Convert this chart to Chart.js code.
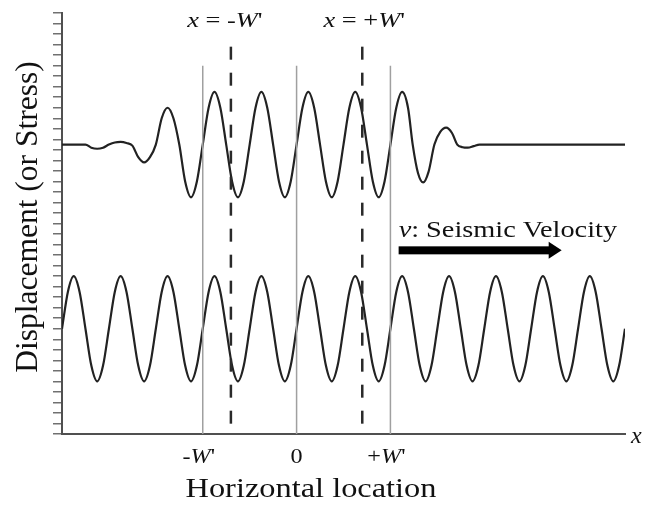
<!DOCTYPE html>
<html>
<head>
<meta charset="UTF-8">
<title>Displacement window</title>
<script src="https://cdn.jsdelivr.net/npm/chart.js"></script>
<style>
  html, body { margin: 0; padding: 0; background: #fff; }
  #wrap { width: 645px; height: 506px; }
  .fontprobe { font-family: "Liberation Serif"; position: absolute; left: -999px; }
</style>
</head>
<body>
<span class="fontprobe">Aa <i>Aa</i></span>
<div id="wrap"><canvas id="waveChart"></canvas></div>
<script>
// horizontal unit = W'/16 (one eighth of a wavelength), 0 at the centre line
const xMin = -40, xMax = 56;
const xTickValues = [-16, 0, 16];
const xTickLabels = [["-", 0, "W", 1, "'", 0], ["0", 0], ["+", 0, "W", 1, "'", 0]];
const yMin = 0, yMax = 40;

// upper trace: wave limited to the window
const topX = [-40, -36, -35, -34, -33, -32, -31, -30, -29, -28, -27, -26, -25, -24, -23, -22, -21, -20,
  -19, -18, -17, -16, -15, -14, -13, -12, -11, -10, -9, -8, -7, -6, -5, -4, -3, -2, -1, 0,
  1, 2, 3, 4, 5, 6, 7, 8, 9, 10, 11, 12, 13, 14, 15, 16, 17, 18, 19, 19.8,
  20.7, 21.6, 22.5, 23.5, 24.5, 25.5, 26.5, 27.4, 28.3, 29.2, 30.2, 31.2, 56];
const topY = [27.5, 27.5, 27.2, 27.1, 27.2, 27.5, 27.7, 27.75, 27.65, 27.4, 26.3, 25.8, 26.3, 27.5, 30.0, 31.0, 30.0, 27.5,
  24.0, 22.5, 24.0, 27.5, 31.0, 32.5, 31.0, 27.5, 24.0, 22.5, 24.0, 27.5, 31.0, 32.5, 31.0, 27.5, 24.0, 22.5, 24.0, 27.5,
  31.0, 32.5, 31.0, 27.5, 24.0, 22.5, 24.0, 27.5, 31.0, 32.5, 31.0, 27.5, 24.0, 22.5, 24.0, 27.5, 31.0, 32.5, 31.0, 27.5,
  24.8, 23.9, 24.9, 27.5, 28.7, 29.1, 28.6, 27.5, 27.25, 27.2, 27.35, 27.5, 27.5];

// lower trace: continuous wave
const bottomX = [-40, -39, -38, -37, -36, -35, -34, -33, -32, -31, -30, -29, -28, -27, -26, -25,
  -24, -23, -22, -21, -20, -19, -18, -17, -16, -15, -14, -13, -12, -11, -10, -9,
  -8, -7, -6, -5, -4, -3, -2, -1, 0, 1, 2, 3, 4, 5, 6, 7,
  8, 9, 10, 11, 12, 13, 14, 15, 16, 17, 18, 19, 20, 21, 22, 23,
  24, 25, 26, 27, 28, 29, 30, 31, 32, 33, 34, 35, 36, 37, 38, 39,
  40, 41, 42, 43, 44, 45, 46, 47, 48, 49, 50, 51, 52, 53, 54, 55, 56];
const bottomY = [10, 13.5, 15, 13.5, 10, 6.5, 5, 6.5, 10, 13.5, 15, 13.5, 10, 6.5, 5, 6.5,
  10, 13.5, 15, 13.5, 10, 6.5, 5, 6.5, 10, 13.5, 15, 13.5, 10, 6.5, 5, 6.5,
  10, 13.5, 15, 13.5, 10, 6.5, 5, 6.5, 10, 13.5, 15, 13.5, 10, 6.5, 5, 6.5,
  10, 13.5, 15, 13.5, 10, 6.5, 5, 6.5, 10, 13.5, 15, 13.5, 10, 6.5, 5, 6.5,
  10, 13.5, 15, 13.5, 10, 6.5, 5, 6.5, 10, 13.5, 15, 13.5, 10, 6.5, 5, 6.5,
  10, 13.5, 15, 13.5, 10, 6.5, 5, 6.5, 10, 13.5, 15, 13.5, 10, 6.5, 5, 6.5, 10];

// vertical markers
const markerX = [-16, 0, 16];     // -W', 0, +W'
const markerTop = 35;
const dashX = [-11.2, 11.2];      // x = -W', x = +W'
const dashTop = 36.8;

const SERIF = '"Liberation Serif", Tinos, "Times New Roman", serif';
const INK = '#111';
const STRETCH = 1.2; // the lettering in the figure is a bit wide

// draw a line of text made of plain / italic pieces
function drawRuns(ctx, runs, x, y, size, align, sx) {
  ctx.save();
  ctx.translate(x, y);
  ctx.scale(sx, 1);
  let w = 0;
  for (let i = 0; i < runs.length; i += 2) {
    ctx.font = (runs[i + 1] ? 'italic ' : '') + size + 'px ' + SERIF;
    w += ctx.measureText(runs[i]).width;
  }
  let cx = align === 'center' ? -w / 2 : (align === 'right' ? -w : 0);
  ctx.textAlign = 'left';
  ctx.textBaseline = 'alphabetic';
  ctx.fillStyle = INK;
  for (let i = 0; i < runs.length; i += 2) {
    ctx.font = (runs[i + 1] ? 'italic ' : '') + size + 'px ' + SERIF;
    ctx.fillText(runs[i], cx, 0);
    cx += ctx.measureText(runs[i]).width;
  }
  ctx.restore();
}

const labelsPlugin = {
  id: 'labels',
  afterDraw(chart) {
    const ctx = chart.ctx;
    const xs = chart.scales.x, ys = chart.scales.y;
    const area = chart.chartArea;

    // tick labels under the axis
    xs.ticks.forEach((t, i) => {
      const shift = xTickLabels[i].length > 2 ? -4 : 0;
      drawRuns(ctx, xTickLabels[i], xs.getPixelForValue(t.value) + shift, area.bottom + 29, 22, 'center', 1.1);
    });

    // axis titles
    drawRuns(ctx, ['Horizontal location', 0], area.left + 249, area.bottom + 63, 27, 'center', STRETCH);
    drawRuns(ctx, ['x', 1], area.right + 6, area.bottom + 9, 24, 'left', 1);
    ctx.save();
    ctx.translate(37, 217);
    ctx.rotate(-Math.PI / 2);
    drawRuns(ctx, ['Displacement (or Stress)', 0], 0, 0, 31.5, 'center', 1);
    ctx.restore();

    // labels over the dashed lines
    drawRuns(ctx, ['x', 1, ' = -', 0, 'W', 1, "'", 0], xs.getPixelForValue(dashX[0]) - 6, area.top + 14, 22, 'center', STRETCH);
    drawRuns(ctx, ['x', 1, ' = +', 0, 'W', 1, "'", 0], xs.getPixelForValue(dashX[1]) + 2, area.top + 14, 22, 'center', STRETCH);

    // velocity arrow
    const ax0 = xs.getPixelForValue(17.4), ax1 = xs.getPixelForValue(45.2);
    const ay = ys.getPixelForValue(17.45);
    ctx.save();
    ctx.fillStyle = '#000';
    ctx.fillRect(ax0, ay - 4, ax1 - 12 - ax0, 8);
    ctx.beginPath();
    ctx.moveTo(ax1, ay);
    ctx.lineTo(ax1 - 13, ay - 8.5);
    ctx.lineTo(ax1 - 13, ay + 8.5);
    ctx.closePath();
    ctx.fill();
    ctx.restore();
    drawRuns(ctx, ['v', 1, ': Seismic Velocity', 0], ax0, ys.getPixelForValue(18.7), 23, 'left', 1.23);
  }
};

const pts = (xa, ya) => xa.map((x, i) => ({ x: x, y: ya[i] }));

const datasets = [];
markerX.forEach(x => datasets.push({
  data: [{ x: x, y: markerTop }, { x: x, y: yMin }],
  borderColor: '#a0a0a0', borderWidth: 1.5, pointRadius: 0
}));
dashX.forEach(x => datasets.push({
  data: [{ x: x, y: dashTop }, { x: x, y: yMin }],
  borderColor: '#2a2a2a', borderWidth: 2.5, borderDash: [13, 13], pointRadius: 0
}));
datasets.push({
  data: pts(topX, topY),
  borderColor: '#222', borderWidth: 2.2, pointRadius: 0, cubicInterpolationMode: 'monotone'
});
datasets.push({
  data: pts(bottomX, bottomY),
  borderColor: '#222', borderWidth: 2.2, pointRadius: 0, cubicInterpolationMode: 'monotone'
});

function makeChart() {
  new Chart(document.getElementById('waveChart'), {
    type: 'line',
    data: { datasets: datasets },
    options: {
      responsive: true,
      maintainAspectRatio: false,
      animation: false,
      layout: { padding: { top: 13, right: 20, left: 0, bottom: 0 } },
      plugins: { legend: { display: false }, tooltip: { enabled: false } },
      scales: {
        x: {
          type: 'linear', min: xMin, max: xMax,
          afterBuildTicks: s => { s.ticks = xTickValues.map(v => ({ value: v })); },
          afterFit: s => { s.height = 72; },
          ticks: { display: false },
          grid: { drawOnChartArea: false, drawTicks: false },
          border: { display: true, color: '#505050', width: 2 }
        },
        y: {
          min: yMin, max: yMax,
          afterFit: s => { s.width = 62; },
          ticks: { display: false, stepSize: 1 },
          grid: { drawOnChartArea: false, drawTicks: true, tickLength: 9, color: '#707070', lineWidth: 1.5 },
          border: { display: true, color: '#505050', width: 2 }
        }
      }
    },
    plugins: [labelsPlugin]
  });
}

// make sure the serif face is ready before the canvas text is drawn
Promise.all([
  document.fonts.load('22px "Liberation Serif"'),
  document.fonts.load('italic 22px "Liberation Serif"')
]).then(makeChart, makeChart);
</script>
</body>
</html>
